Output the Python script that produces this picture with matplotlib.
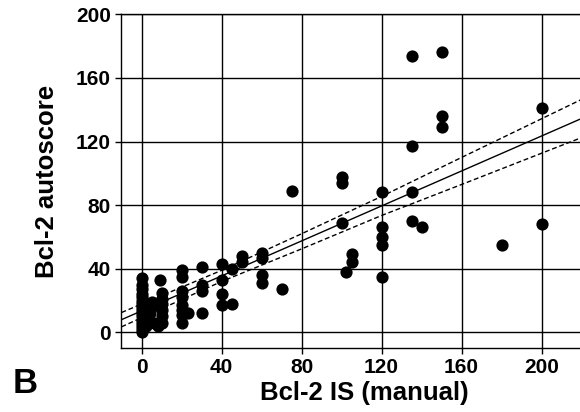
import numpy as np
import matplotlib
matplotlib.use("Agg")
import matplotlib.pyplot as plt

plt.rcParams['font.family'] = ['Liberation Sans', 'DejaVu Sans']
plt.rcParams['font.weight'] = 'bold'

# scatter: manual IS score vs autoscore
manual_is = [0, 0, 0, 0, 0, 0, 0, 0, 0, 0, 0, 0, 0, 0, 0, 0,
             2, 3, 4, 3, 5, 7, 6, 8,
             9, 10, 10, 10, 10, 10, 10,
             20, 20, 20, 20, 20, 20, 20, 20, 23,
             30, 30, 30, 30,
             40, 40, 40, 40, 45, 45,
             50, 50, 60, 60, 60, 60,
             70, 75,
             100, 100, 100, 102, 105, 105,
             120, 120, 120, 120, 120,
             135, 135, 135, 135, 140,
             150, 150, 150,
             180, 200, 200]
autoscore = [0, 2, 4, 6, 8, 10, 12, 14, 16, 18, 20, 22, 24, 27, 30, 34,
             4, 8, 12, 18, 19, 17, 6, 4,
             33, 25, 21, 18, 14, 10, 6,
             39, 35, 26, 22, 17, 14, 11, 6, 12,
             41, 30, 26, 12,
             43, 33, 24, 17, 40, 18,
             48, 44, 50, 47, 36, 31,
             27, 89,
             98, 94, 69, 38, 49, 44,
             88, 66, 60, 55, 35,
             174, 117, 88, 70, 66,
             176, 136, 129,
             55, 141, 68]

# regression line and 95% band, read at a few x positions
fit_x = [-10, 40, 80, 120, 160, 220]
fit_y = [8.0, 35.5, 57.5, 79.5, 101.5, 134.5]
band_hi = [12.5, 39.0, 62.0, 85.5, 110.0, 146.5]
band_lo = [3.5, 32.0, 52.5, 73.5, 93.0, 122.5]

fig = plt.figure(figsize=(5.8, 4.12), dpi=100)
ax = fig.add_axes([0.2081, 0.1546, 0.8385, 0.8107])

ax.plot(manual_is, autoscore, 'o', color='black', markersize=8.8,
        markeredgewidth=0, zorder=4)
ax.plot(fit_x, fit_y, '-', color='black', linewidth=1.0, zorder=3)
ax.plot(fit_x, band_hi, '--', color='black', linewidth=1.0, dashes=(3.5, 2), zorder=3)
ax.plot(fit_x, band_lo, '--', color='black', linewidth=1.0, dashes=(3.5, 2), zorder=3)

ax.set_xlim(-10.4, 232.7)
ax.set_ylim(-10, 200)
ax.set_xticks([0, 40, 80, 120, 160, 200])
ax.set_yticks([0, 40, 80, 120, 160, 200])
ax.grid(True, color='black', linewidth=1.0)
ax.set_axisbelow(True)
for s in ax.spines.values():
    s.set_linewidth(1.0)
ax.tick_params(direction='out', length=4, width=1.0, labelsize=15, pad=3)
for lab in ax.get_xticklabels() + ax.get_yticklabels():
    lab.set_fontweight('bold')

ax.set_xlabel('Bcl-2 IS (manual)', fontsize=18.5, fontweight='bold', labelpad=3)
ax.set_ylabel('Bcl-2 autoscore', fontsize=18.5, fontweight='bold', labelpad=12)
fig.text(0.022, 0.045, 'B', fontsize=25, fontweight='bold')

fig.savefig('out.png', dpi=100)
